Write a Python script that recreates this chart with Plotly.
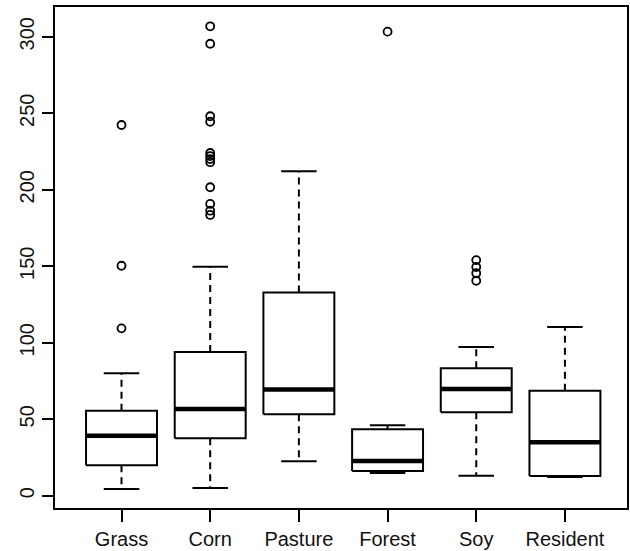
import plotly.graph_objects as go

categories = ["Grass", "Corn", "Pasture", "Forest", "Soy", "Resident"]
lower_whisker = [4.4, 5.0, 22.5, 14.8, 13.1, 12.2]
q1 = [19.9, 37.5, 53.2, 16.1, 54.5, 12.9]
median = [39.2, 56.7, 69.5, 22.7, 69.7, 34.9]
q3 = [55.5, 93.9, 132.9, 43.4, 83.3, 68.6]
upper_whisker = [80.0, 149.7, 212.0, 46.0, 97.2, 110.3]
outliers = {
    "Grass": [109.4, 150.3, 242.3],
    "Corn": [306.8, 295.4, 248.0, 244.4, 224.0, 222.0, 220.0, 218.0, 201.6, 190.7, 186.3, 183.5],
    "Pasture": [],
    "Forest": [303.3],
    "Soy": [154.0, 149.5, 145.4, 140.5],
    "Resident": [],
}
y_ticks = [0, 50, 100, 150, 200, 250, 300]

BOX_HALF = 0.4
CAP_HALF = 0.2
positions = list(range(1, len(categories) + 1))

box_x, box_y = [], []
med_x, med_y = [], []
wh_x, wh_y = [], []
cap_x, cap_y = [], []
out_x, out_y = [], []
for i, cat in enumerate(categories):
    p = positions[i]
    box_x += [p - BOX_HALF, p + BOX_HALF, p + BOX_HALF, p - BOX_HALF, p - BOX_HALF, None]
    box_y += [q1[i], q1[i], q3[i], q3[i], q1[i], None]
    med_x += [p - BOX_HALF, p + BOX_HALF, None]
    med_y += [median[i], median[i], None]
    wh_x += [p, p, None, p, p, None]
    wh_y += [q3[i], upper_whisker[i], None, q1[i], lower_whisker[i], None]
    cap_x += [p - CAP_HALF, p + CAP_HALF, None, p - CAP_HALF, p + CAP_HALF, None]
    cap_y += [upper_whisker[i], upper_whisker[i], None, lower_whisker[i], lower_whisker[i], None]
    for v in outliers[cat]:
        out_x.append(p)
        out_y.append(v)

fig = go.Figure()
fig.add_trace(go.Scatter(x=wh_x, y=wh_y, mode="lines",
                         line=dict(color="black", width=2, dash="7px,5px"), hoverinfo="skip"))
fig.add_trace(go.Scatter(x=cap_x, y=cap_y, mode="lines",
                         line=dict(color="black", width=2), hoverinfo="skip"))
fig.add_trace(go.Scatter(x=box_x, y=box_y, mode="lines", fill="toself", fillcolor="white",
                         line=dict(color="black", width=2), hoverinfo="skip"))
fig.add_trace(go.Scatter(x=med_x, y=med_y, mode="lines",
                         line=dict(color="black", width=4.5), hoverinfo="skip"))
fig.add_trace(go.Scatter(x=out_x, y=out_y, mode="markers",
                         marker=dict(symbol="circle-open", size=8, color="black",
                                     line=dict(width=1.8, color="black"))))

fig.update_layout(
    width=630, height=551,
    margin=dict(l=55, r=1, t=7, b=43),
    paper_bgcolor="white", plot_bgcolor="white",
    showlegend=False,
    font=dict(family="Liberation Sans, Arial, sans-serif", size=20, color="#111111"),
)
fig.update_xaxes(
    range=[0.25, 6.70], tickvals=positions, ticktext=categories,
    showgrid=False, zeroline=False,
    showline=True, linecolor="black", linewidth=2, mirror=True,
    ticks="outside", ticklen=12, tickwidth=2, tickcolor="black",
)
fig.update_yaxes(
    range=[-8.0, 319.4], tickvals=y_ticks, ticktext=[str(t) for t in y_ticks],
    tickangle=-90,
    showgrid=False, zeroline=False,
    showline=True, linecolor="black", linewidth=2, mirror=True,
    ticks="outside", ticklen=11, tickwidth=2, tickcolor="black",
)

fig.write_html(
    "out.html",
    config={"displayModeBar": False},
    post_script="document.body.style.margin='0';document.body.style.overflow='hidden';",
)
